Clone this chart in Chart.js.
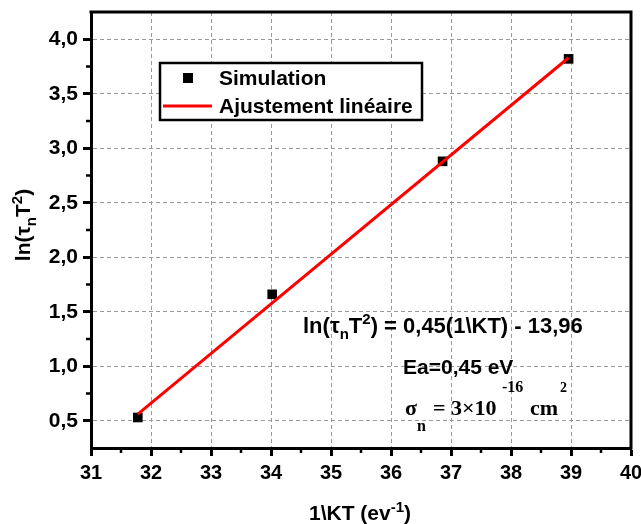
<!DOCTYPE html>
<html>
<head>
<meta charset="utf-8">
<script src="https://cdn.jsdelivr.net/npm/chart.js@4/dist/chart.umd.min.js"></script>
<style>
  html, body { margin: 0; padding: 0; background: #fff; }
  #wrap { width: 641px; height: 524px; position: relative; }
</style>
</head>
<body>
<div id="wrap"><canvas id="chartCanvas"></canvas></div>
<script>
// --- Data ---
const xTicks = [31, 32, 33, 34, 35, 36, 37, 38, 39, 40];
const yTicks = [0.5, 1.0, 1.5, 2.0, 2.5, 3.0, 3.5, 4.0];

const simLabel = 'Simulation';
const simX = [31.78, 34.02, 36.86, 38.96];
const simY = [0.53, 1.66, 2.88, 3.82];

const fitLabel = 'Ajustement linéaire';
const fitX = [31.78, 38.96];
const fitY = [0.56, 3.83];

const SANS = "'Liberation Sans', Arial, sans-serif";
const SERIF = "'Liberation Serif', 'Times New Roman', serif";

const canvas = document.getElementById('chartCanvas');

// draw a row of text pieces (for sub/superscripts)
function drawRuns(ctx, x, y, runs, align) {
    let total = 0;
    runs.forEach(r => {
        ctx.font = r.font;
        r.w = ctx.measureText(r.t).width;
        total += r.w;
    });
    let cx = align === 'center' ? x - total / 2 : x;
    runs.forEach(r => {
        ctx.font = r.font;
        ctx.fillText(r.t, cx, y + (r.dy || 0));
        cx += r.w;
    });
}

const extras = {
    id: 'extras',
    afterDatasetsDraw(chart) {
        const ctx = chart.ctx;
        const a = chart.chartArea;
        const xs = chart.scales.x;
        const ys = chart.scales.y;
        ctx.save();

        // top and right frame
        ctx.strokeStyle = '#000';
        ctx.lineWidth = 3;
        ctx.beginPath();
        ctx.moveTo(a.left - 1.5, a.top);
        ctx.lineTo(a.right, a.top);
        ctx.lineTo(a.right, a.bottom + 1.5);
        ctx.stroke();

        // minor ticks
        ctx.lineWidth = 2.5;
        ctx.beginPath();
        for (let i = 0; i < xTicks.length - 1; i++) {
            const px = xs.getPixelForValue((xTicks[i] + xTicks[i + 1]) / 2);
            ctx.moveTo(px, a.bottom);
            ctx.lineTo(px, a.bottom + 5);
        }
        for (let i = 0; i < yTicks.length - 1; i++) {
            const py = ys.getPixelForValue((yTicks[i] + yTicks[i + 1]) / 2);
            ctx.moveTo(a.left, py);
            ctx.lineTo(a.left - 5, py);
        }
        ctx.stroke();

        // legend
        ctx.fillStyle = '#fff';
        ctx.fillRect(160, 63, 262, 57);
        ctx.strokeStyle = '#000';
        ctx.lineWidth = 2.5;
        ctx.strokeRect(160, 63, 262, 57);
        ctx.fillStyle = '#000';
        ctx.fillRect(183, 73, 10, 10);
        ctx.strokeStyle = '#ff0000';
        ctx.lineWidth = 3;
        ctx.beginPath();
        ctx.moveTo(163, 106);
        ctx.lineTo(212, 106);
        ctx.stroke();
        ctx.fillStyle = '#000';
        ctx.textBaseline = 'alphabetic';
        ctx.textAlign = 'left';
        ctx.font = 'bold 21px ' + SANS;
        ctx.fillText(chart.data.datasets[0].label, 219, 85);
        ctx.fillText(chart.data.datasets[1].label, 219, 113);

        // fit equation
        const f = 'bold 22px ' + SANS, fs = 'bold 15px ' + SANS;
        drawRuns(ctx, 303, 333, [
            { t: 'ln(', font: f },
            { t: 'τ', font: f },
            { t: 'n', font: fs, dy: 6 },
            { t: 'T', font: f },
            { t: '2', font: fs, dy: -9 },
            { t: ') = 0,45(1\\KT) - 13,96', font: f }
        ]);
        ctx.font = 'bold 21px ' + SANS;
        ctx.fillText('Ea=0,45 eV', 403, 374);

        // capture cross-section
        ctx.font = 'bold 22px ' + SERIF;
        ctx.fillText('σ', 405, 415);
        ctx.fillText('= 3×10', 433, 415);
        ctx.fillText('cm', 530, 415);
        ctx.font = 'bold 16px ' + SERIF;
        ctx.fillText('n', 417, 431);
        ctx.fillText('-16', 502, 392);
        ctx.font = 'bold 14px ' + SERIF;
        ctx.fillText('2', 560, 392);

        // axis titles
        const tf = 'bold 21px ' + SANS, ts = 'bold 15px ' + SANS;
        drawRuns(ctx, 360, 520, [
            { t: '1\\KT (ev', font: tf },
            { t: '-1', font: ts, dy: -8 },
            { t: ')', font: tf }
        ], 'center');

        ctx.translate(30, 225);
        ctx.rotate(-Math.PI / 2);
        drawRuns(ctx, 0, 0, [
            { t: 'ln(', font: tf },
            { t: 'τ', font: tf },
            { t: 'n', font: ts, dy: 6 },
            { t: 'T', font: tf },
            { t: '2', font: ts, dy: -8 },
            { t: ')', font: tf }
        ], 'center');

        ctx.restore();
    }
};

const gridBase = {
    color: '#9a9a9a',
    lineWidth: 1,
    tickColor: '#000',
    tickLength: 8,
    tickWidth: 3
};

new Chart(canvas, {
    type: 'scatter',
    data: {
        datasets: [
            {
                label: simLabel,
                data: simX.map((x, i) => ({ x, y: simY[i] })),
                pointStyle: 'rect',
                pointRadius: 6.8,
                pointBackgroundColor: '#000',
                pointBorderWidth: 0,
                showLine: false,
                order: 2
            },
            {
                label: fitLabel,
                data: fitX.map((x, i) => ({ x, y: fitY[i] })),
                showLine: true,
                borderColor: '#ff0000',
                borderWidth: 3,
                pointRadius: 0,
                order: 1
            }
        ]
    },
    options: {
        responsive: true,
        maintainAspectRatio: false,
        animation: false,
        layout: { padding: { left: 0, right: 10, top: 12, bottom: 0 } },
        plugins: {
            legend: { display: false },
            title: { display: false },
            tooltip: { enabled: false }
        },
        scales: {
            x: {
                type: 'linear',
                min: 31,
                max: 40,
                afterBuildTicks: s => { s.ticks = xTicks.map(v => ({ value: v })); },
                afterFit: s => { s.height = 76; s.paddingLeft = 0; s.paddingRight = 0; },
                ticks: {
                    color: '#000',
                    font: { family: SANS, size: 20, weight: 'bold' },
                    padding: 5,
                    maxRotation: 0,
                    callback: v => String(v)
                },
                grid: gridBase,
                border: { display: true, color: '#000', width: 3, dash: [4, 3] }
            },
            y: {
                type: 'linear',
                min: 0.25,
                max: 4.25,
                afterBuildTicks: s => { s.ticks = yTicks.map(v => ({ value: v })); },
                afterFit: s => { s.width = 91; s.paddingTop = 0; s.paddingBottom = 0; },
                ticks: {
                    color: '#000',
                    font: { family: SANS, size: 21, weight: 'bold' },
                    padding: 5,
                    callback: v => v.toFixed(1).replace('.', ',')
                },
                grid: gridBase,
                border: { display: true, color: '#000', width: 3, dash: [4, 3] }
            }
        }
    },
    plugins: [extras]
});
</script>
</body>
</html>
